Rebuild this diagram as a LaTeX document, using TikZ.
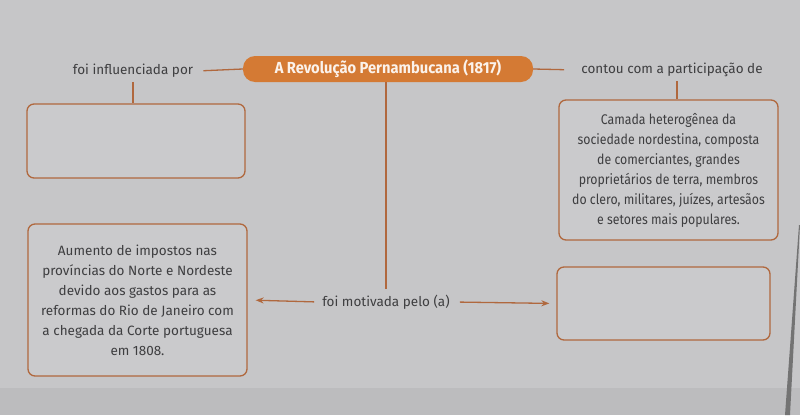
\documentclass[tikz,border=0pt]{standalone}
\usepackage{fontspec}
\setmainfont{Fira Sans}
\newfontfamily\condf[FakeStretch=0.88]{Fira Sans}
\newfontfamily\titlef[FakeStretch=0.92]{Fira Sans}
\usetikzlibrary{arrows.meta}
\definecolor{bg}{RGB}{198,198,200}
\definecolor{bgdark}{RGB}{188,188,190}
\definecolor{pill}{RGB}{212,122,52}
\definecolor{edge}{RGB}{176,104,62}
\definecolor{ink}{RGB}{62,62,64}
\definecolor{boxfill}{RGB}{202,202,204}
\tikzset{
  title/.style={fill=pill, text=white!90!pill, rounded corners=12pt, minimum height=26pt,
    minimum width=290pt, font=\titlef\bfseries\fontsize{16}{18}\selectfont, inner sep=0pt},
  lab/.style={text=ink, font=\fontsize{13.5}{16}\selectfont, inner sep=4pt},
  card/.style={draw=edge, line width=1.3pt, rounded corners=7pt, fill=boxfill, text=ink,
    align=center, inner sep=0pt},
  conn/.style={draw=edge, line width=1.3pt},
  arr/.style={conn, -{Stealth[length=8pt,width=6pt]}}
}
\begin{document}
\begin{tikzpicture}[x=1pt,y=-1pt]
\useasboundingbox (0,0) rectangle (800,415);
\fill[bg] (0,0) rectangle (800,415);
\fill[bgdark] (0,388) rectangle (800,415);
\fill[black!55] (799,225) -- (800,225) -- (790,415) -- (785,415) -- cycle;
% title and labels
\node[title] (t) at (388,69) {A Revolução Pernambucana (1817)};
\node[lab] (inf) at (133,71) {foi influenciada por};
\node[lab] (con) at (672,70) {contou com a participação de};
\node[lab] (mot) at (386,302) {foi motivada pelo (a)};
% boxes
\node[card, minimum width=218pt, minimum height=74pt] (b1) at (136,141) {};
\node[card, minimum width=219pt, minimum height=140pt,
  font=\condf\fontsize{14}{20}\selectfont] (b2) at (668.5,170)
  {Camada heterogênea da\\sociedade nordestina, composta\\de comerciantes, grandes\\proprietários de terra, membros\\do clero, militares, juízes, artesãos\\e setores mais populares.};
\node[card, minimum width=219pt, minimum height=152pt,
  font=\fontsize{13.5}{20}\selectfont] (b3) at (137.5,300)
  {Aumento de impostos nas\\províncias do Norte e Nordeste\\devido aos gastos para as\\reformas do Rio de Janeiro com\\a chegada da Corte portuguesa\\em 1808.};
\node[card, minimum width=213pt, minimum height=73pt] (b4) at (663.5,303.5) {};
% connectors
\draw[conn, shorten >=6pt] (t.west) -- (inf.east);
\draw[conn, shorten >=13pt] (t.east) -- (con.west);
\draw[conn] (inf.south) -- (inf.south |- b1.north);
\draw[conn] ([xshift=5pt]con.south) -- ([xshift=5pt]con.south |- b2.north);
\draw[conn, shorten >=2pt] (mot.north |- t.south) -- (mot.north);
\draw[arr, shorten <=4pt, shorten >=8pt] (mot.west) -- (b3.east);
\draw[arr, shorten <=6pt, shorten >=7pt] (mot.east) -- (b4.west);
\end{tikzpicture}
\end{document}
